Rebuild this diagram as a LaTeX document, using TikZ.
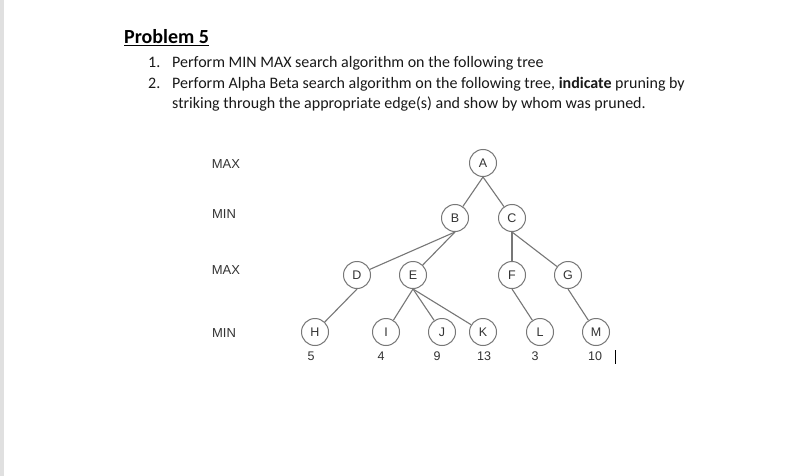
\documentclass[tikz,border=0pt]{standalone}
\usepackage{fontspec}
\setmainfont{Carlito}
\newfontfamily\arialfont{Liberation Sans}
\usetikzlibrary{positioning}

\definecolor{edgegray}{HTML}{777777}
\definecolor{labelgray}{HTML}{333333}

\begin{document}
\begin{tikzpicture}[x=1pt, y=-1pt,
            tnode/.style={circle, draw=edgegray, fill=white, line width=1pt, minimum size=27pt, inner sep=0pt, text=labelgray, font=\arialfont\fontsize{12.5}{12.5}\selectfont},
            lvl/.style={text=labelgray, font=\arialfont\fontsize{13}{13}\selectfont, inner sep=0pt},
            val/.style={text=labelgray, font=\arialfont\fontsize{12.5}{12.5}\selectfont, inner sep=0pt},
            edge/.style={draw=edgegray, line width=1.1pt},
            txt/.style={anchor=base west, inner sep=0pt, text=black!90, font=\fontsize{16}{18}\selectfont}
        ]
            % --- page ---
            \useasboundingbox (0,0) rectangle (789,476);
            \fill[white] (0,0) rectangle (789,476);
            \fill[black!12] (0,0) rectangle (4,476);

            % --- header ---
            \node[anchor=base west, inner sep=0pt, font=\fontsize{20}{24}\selectfont\bfseries] (title) at (124,44) {\underline{Problem 5}};
            \node[txt] (n1) at (148,68) {1.};
            \node[txt] (q1) at (172,68) {Perform MIN MAX search algorithm on the following tree};
            \node[txt] (n2) at (148,89) {2.};
            \node[txt] (q2) at (172,89) {Perform Alpha Beta search algorithm on the following tree, \textbf{indicate} pruning by};
            \node[txt] (q3) at (172,109) {striking through the appropriate edge(s) and show by whom was pruned.};

            % --- levels ---
            \node[lvl] (lv1) at (226,164) {MAX};
            \node[lvl] (lv2) at (224,214) {MIN};
            \node[lvl] (lv3) at (226,270) {MAX};
            \node[lvl] (lv4) at (224,333) {MIN};

            % --- tree nodes ---
            \node[tnode] (A) at (483,163) {A};
            \node[tnode] (B) at (455,218) {B};
            \node[tnode] (C) at (512,218) {C};
            \node[tnode] (D) at (357,275) {D};
            \node[tnode] (E) at (413,275) {E};
            \node[tnode] (F) at (512,275) {F};
            \node[tnode] (G) at (568,275) {G};
            \node[tnode] (H) at (315,332) {H};
            \node[tnode] (I) at (386,332) {I};
            \node[tnode] (J) at (442,332) {J};
            \node[tnode] (K) at (483,332) {K};
            \node[tnode] (L) at (540,332) {L};
            \node[tnode] (M) at (596,332) {M};

            % --- edges ---
            \draw[edge] (A.south) -- (B);
            \draw[edge] (A.south) -- (C);
            \draw[edge] (B.south) -- (D);
            \draw[edge] (B.south) -- (E);
            \draw[edge] (C.south) -- (F);
            \draw[edge] (C.south) -- (G);
            \draw[edge] (D.south) -- (H);
            \draw[edge] (E.south) -- (I);
            \draw[edge] (E.south) -- (J);
            \draw[edge] (E.south) -- (K);
            \draw[edge] (F.south) -- (L);
            \draw[edge] (G.south) -- (M);

            % --- leaf values ---
            \node[val] (vH) at (311,356) {5};
            \node[val] (vI) at (381,356) {4};
            \node[val] (vJ) at (437,356) {9};
            \node[val] (vK) at (484,356) {13};
            \node[val] (vL) at (535,356) {3};
            \node[val] (vM) at (595,356) {10};

            % cursor
            \draw[black, line width=1pt] (615,350) -- (615,364);
        \end{tikzpicture}
\end{document}
